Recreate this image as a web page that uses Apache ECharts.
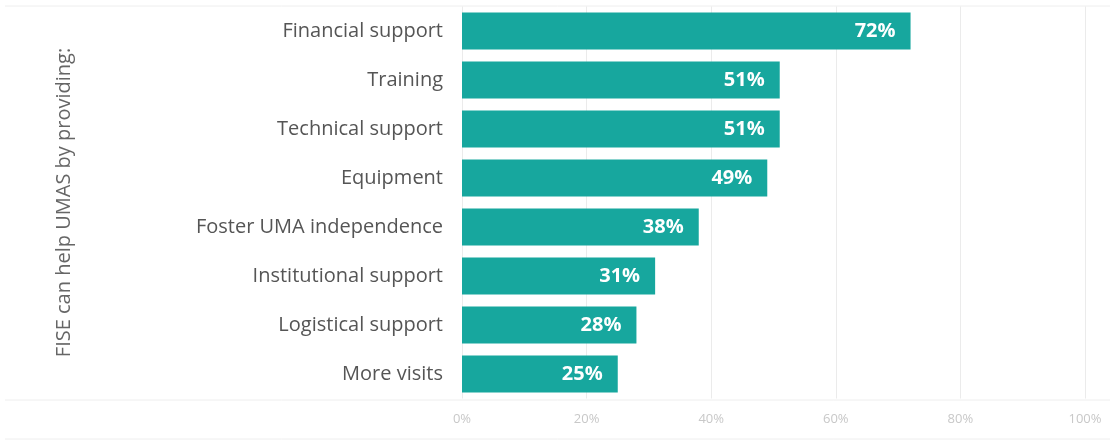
<!DOCTYPE html>
<html>
<head>
<meta charset="utf-8">
<script src="https://cdn.jsdelivr.net/npm/echarts@6/dist/echarts.min.js"></script>
<style>
html,body{margin:0;padding:0;background:#fff;}
#chart{width:1115px;height:441px;}
</style>
</head>
<body>
<div id="chart"></div>
<script>
const categories = ["Financial support","Training","Technical support","Equipment","Foster UMA independence","Institutional support","Logistical support","More visits"];
const values = [72, 51, 51, 49, 38, 31, 28, 25];
const xTicks = [0, 20, 40, 60, 80, 100];
const yAxisTitle = "FISE can help UMAS by providing:";

const chart = echarts.init(document.getElementById('chart'));
chart.setOption({
  animation: false,
  backgroundColor: '#ffffff',
  textStyle: { fontFamily: 'Open Sans' },
  grid: { left: 462, right: 30, top: 6.5, bottom: 42.5, containLabel: false },
  xAxis: {
    type: 'value', min: xTicks[0], max: xTicks[xTicks.length-1], interval: 20,
    axisLine: { show: false }, axisTick: { show: false },
    axisLabel: { formatter: v => v + '%', color: '#c8c8c8', fontSize: 13, margin: 14 },
    splitLine: { show: true, lineStyle: { color: '#ebebeb', width: 1 } }
  },
  yAxis: {
    type: 'category', data: categories, inverse: true,
    axisLine: { show: false }, axisTick: { show: false },
    axisLabel: { color: '#555', fontSize: 20, margin: 19 },
    name: yAxisTitle, nameLocation: 'middle', nameRotate: 90, nameGap: 388,
    nameTextStyle: { color: '#666', fontSize: 20 }
  },
  graphic: [
    { type: 'line', shape: { x1: 5, y1: 6, x2: 1110, y2: 6 }, style: { stroke: '#eeeeee', lineWidth: 1 } },
    { type: 'line', shape: { x1: 5, y1: 400, x2: 1110, y2: 400 }, style: { stroke: '#eeeeee', lineWidth: 1 } },
    { type: 'line', shape: { x1: 5, y1: 439, x2: 1110, y2: 439 }, style: { stroke: '#eeeeee', lineWidth: 1 } }
  ],
  series: [{
    type: 'bar', data: values, barCategoryGap: '24%',
    itemStyle: { color: '#17a79e' },
    label: { show: true, position: 'insideRight', formatter: p => p.value + '%', color: '#fff', fontWeight: 'bold', fontSize: 20, distance: 15 }
  }]
});
</script>
</body>
</html>
